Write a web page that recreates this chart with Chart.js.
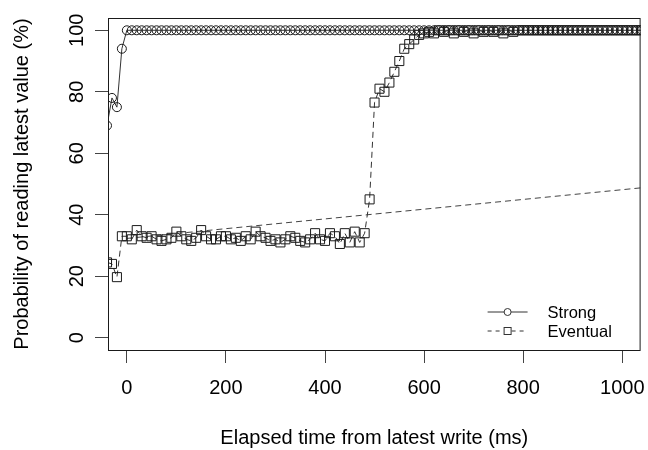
<!DOCTYPE html>
<html>
<head>
<meta charset="utf-8">
<script src="https://cdn.jsdelivr.net/npm/chart.js@4"></script>
<style>
  html, body { margin: 0; padding: 0; background: #fff; }
  canvas { display: block; }
</style>
</head>
<body>
<canvas id="chart" width="648" height="450"></canvas>
<script>
// temps écoulé depuis la dernière écriture (ms)
const timeMs = [
  -40, -30, -20, -10, 0, 10, 20, 30, 40, 50, 60, 70, 80, 90,
  100, 110, 120, 130, 140, 150, 160, 170, 180, 190,
  200, 210, 220, 230, 240, 250, 260, 270, 280, 290,
  300, 310, 320, 330, 340, 350, 360, 370, 380, 390,
  400, 410, 420, 430, 440, 450, 460, 470, 480, 490,
  500, 510, 520, 530, 540, 550, 560, 570, 580, 590,
  600, 610, 620, 630, 640, 650, 660, 670, 680, 690,
  700, 710, 720, 730, 740, 750, 760, 770, 780, 790,
  800, 810, 820, 830, 840, 850, 860, 870, 880, 890,
  900, 910, 920, 930, 940, 950, 960, 970, 980, 990,
  1000, 1010, 1020, 1030, 1040
];

// probabilité de lire la dernière valeur (%)
const strongPct = [
  69, 78, 75, 94, 100, 100, 100, 100, 100, 100, 100, 100, 100, 100,
  100, 100, 100, 100, 100, 100, 100, 100, 100, 100,
  100, 100, 100, 100, 100, 100, 100, 100, 100, 100,
  100, 100, 100, 100, 100, 100, 100, 100, 100, 100,
  100, 100, 100, 100, 100, 100, 100, 100, 100, 100,
  100, 100, 100, 100, 100, 100, 100, 100, 100, 100,
  100, 100, 100, 100, 100, 100, 100, 100, 100, 100,
  100, 100, 100, 100, 100, 100, 100, 100, 100, 100,
  100, 100, 100, 100, 100, 100, 100, 100, 100, 100,
  100, 100, 100, 100, 100, 100, 100, 100, 100, 100,
  100, 100, 100, 100, 100
];

const eventualPct = [
  24.5, 24, 19.7, 33, 33, 32, 35, 33, 32.5, 33, 32, 31.5, 32, 32.5,
  34.5, 33, 32, 31.5, 32.5, 35, 33, 32, 32, 33,
  33, 32, 32.5, 31.5, 33, 32, 34.5, 33, 32.5, 31.5,
  32, 31, 32, 33, 32.5, 31.5, 31, 32, 34, 32,
  31.5, 34, 33, 30.5, 34, 31, 34.5, 31, 34, 45,
  76.5, 81, 80, 83, 86.5, 90, 94, 95.5, 97, 98.5,
  99, 99.5, 99, 100, 99.5, 100, 99, 100, 99.5, 100,
  99, 100, 99.5, 100, 99.5, 100, 99, 100, 99.5, 100,
  100, 100, 100, 100, 100, 100, 100, 100, 100, 100,
  100, 100, 100, 100, 100, 100, 100, 100, 100, 100,
  100, 100, 100, 100, 100
];

// segment pointillé qui part du début et sort du cadre à droite
const eventualTrendMs = [0, 2000];
const eventualTrendPct = [32.3, 64];

const xTicks = [0, 200, 400, 600, 800, 1000];
const yTicks = [0, 20, 40, 60, 80, 100];

const seriesNames = ['Strong', 'Eventual'];
const xTitle = 'Elapsed time from latest write (ms)';
const yTitle = 'Probability of reading latest value (%)';

const FONT = '"Liberation Sans", Arial, sans-serif';
const INK = '#1a1a1a';

const toPoints = (xs, ys) => xs.map((x, i) => ({x: x, y: ys[i]}));

// cadre, étiquettes verticales de l'axe y et légende
const rStyle = {
  id: 'rStyle',
  afterDraw(chart) {
    const c = chart.ctx;
    const a = chart.chartArea;
    const yScale = chart.scales.y;

    c.save();
    c.strokeStyle = INK;
    c.lineWidth = 1;
    c.strokeRect(a.left + 0.5, a.top + 0.5, a.right - a.left - 1, a.bottom - a.top);

    // étiquettes de l'axe y, tournées comme dans R
    c.fillStyle = '#000';
    c.font = '20px ' + FONT;
    c.textAlign = 'center';
    c.textBaseline = 'middle';
    yTicks.forEach(v => {
      const py = yScale.getPixelForValue(v);
      c.save();
      c.translate(a.left - 31, py);
      c.rotate(-Math.PI / 2);
      c.fillText(String(v), 0, 0);
      c.restore();
    });

    // légende en bas à droite
    const lx0 = a.right - 153, lx1 = a.right - 113, lmid = (lx0 + lx1) / 2;
    const rows = [a.bottom - 38, a.bottom - 19];
    c.strokeStyle = '#333';
    c.lineWidth = 1;
    // Strong
    c.setLineDash([]);
    c.beginPath();
    c.moveTo(lx0, rows[0]); c.lineTo(lmid - 3.5, rows[0]);
    c.moveTo(lmid + 3.5, rows[0]); c.lineTo(lx1, rows[0]);
    c.stroke();
    c.beginPath();
    c.arc(lmid, rows[0], 3.5, 0, Math.PI * 2);
    c.stroke();
    // Eventual
    c.setLineDash([4, 4]);
    c.beginPath();
    c.moveTo(lx0, rows[1]); c.lineTo(lmid - 4, rows[1]);
    c.moveTo(lmid + 4, rows[1]); c.lineTo(lx1, rows[1]);
    c.stroke();
    c.setLineDash([]);
    c.strokeRect(lmid - 3.5, rows[1] - 3.5, 7, 7);

    c.fillStyle = '#000';
    c.font = '16.5px ' + FONT;
    c.textAlign = 'left';
    seriesNames.forEach((name, i) => c.fillText(name, lx1 + 20, rows[i] + 1));
    c.restore();
  }
};

const ctx = document.getElementById('chart');

new Chart(ctx, {
  type: 'line',
  data: {
    datasets: [
      {
        label: seriesNames[0],
        data: toPoints(timeMs, strongPct),
        borderColor: '#333',
        borderWidth: 1,
        pointStyle: 'circle',
        pointRadius: 4.5,
        pointBorderWidth: 1,
        pointBorderColor: INK,
        pointBackgroundColor: 'rgba(0,0,0,0)',
        clip: 0
      },
      {
        label: seriesNames[1],
        data: toPoints(timeMs, eventualPct),
        borderColor: '#333',
        borderWidth: 1,
        borderDash: [6, 4],
        pointStyle: 'rect',
        pointRadius: 6.4,
        pointBorderWidth: 1,
        pointBorderColor: INK,
        pointBackgroundColor: 'rgba(0,0,0,0)',
        clip: 0
      },
      {
        label: 'trend',
        data: toPoints(eventualTrendMs, eventualTrendPct),
        borderColor: '#444',
        borderWidth: 1,
        borderDash: [6, 4],
        pointRadius: 0,
        clip: 0
      }
    ]
  },
  options: {
    responsive: false,
    animation: false,
    events: [],
    layout: { padding: { left: 0, right: -1, top: 18, bottom: 0 } },
    plugins: {
      legend: { display: false },
      tooltip: { enabled: false }
    },
    scales: {
      x: {
        type: 'linear',
        min: -38,
        max: 1037,
        afterBuildTicks: s => { s.ticks = xTicks.map(v => ({value: v})); },
        afterFit: s => { s.height = 100; s.paddingLeft = 0; s.paddingRight = 0; },
        border: { display: false },
        grid: { drawOnChartArea: false, drawTicks: true, tickLength: 13, color: '#444' },
        ticks: {
          color: '#000',
          font: { family: FONT, size: 20 },
          padding: 13,
          maxRotation: 0,
          callback: v => String(v)
        },
        title: {
          display: true,
          text: xTitle,
          color: '#000',
          font: { family: FONT, size: 20 },
          padding: { top: 0, bottom: 0 }
        }
      },
      y: {
        type: 'linear',
        min: -4,
        max: 104,
        afterBuildTicks: s => { s.ticks = yTicks.map(v => ({value: v})); },
        afterFit: s => { s.width = 108; s.paddingTop = 0; s.paddingBottom = 0; },
        border: { display: false },
        grid: { drawOnChartArea: false, drawTicks: true, tickLength: 13, color: '#444' },
        ticks: { display: false },
        title: {
          display: true,
          text: yTitle,
          color: '#000',
          font: { family: FONT, size: 20 },
          padding: { top: 10, bottom: 0 }
        }
      }
    }
  },
  plugins: [rStyle]
});
</script>
</body>
</html>
